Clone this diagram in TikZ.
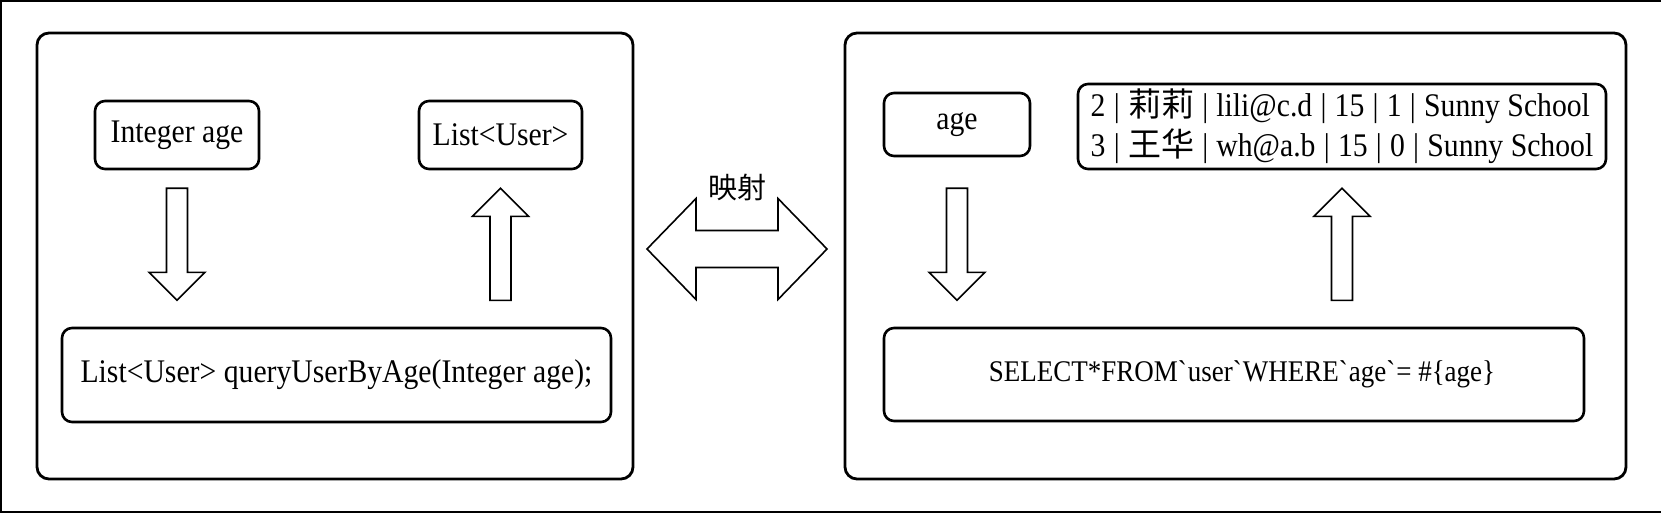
\documentclass[tikz,border=0pt]{standalone}
\usepackage{fontspec}
\setmainfont{Liberation Serif}[FakeStretch=0.9]
\newfontfamily\cjk{Noto Sans CJK SC}
\newcommand{\sepbar}{\hspace{.25em}|\hspace{.25em}}
\newcommand{\bq}{\textasciigrave}
\tikzset{
  panel/.style={draw, line width=2.8pt, rounded corners=12pt},
  box/.style={draw, line width=2.6pt, rounded corners=10pt, inner sep=0pt, font=\fontsize{33}{40}\selectfont},
  blockline/.style={draw, line width=1.6pt, fill=white},
  blockdown/.pic={\path[blockline] (-10.5,0) -- (10.5,0) -- (10.5,84) -- (28,84) -- (0,112) -- (-28,84) -- (-10.5,84) -- cycle;},
  blockup/.pic={\path[blockline] (-10.5,112) -- (10.5,112) -- (10.5,28) -- (28,28) -- (0,0) -- (-28,28) -- (-10.5,28) -- cycle;},
  blockboth/.pic={\path[blockline] (-90,0) -- (-41,-50.5) -- (-41,-18.5) -- (41,-18.5) -- (41,-50.5) -- (90,0) -- (41,50.5) -- (41,18.5) -- (-41,18.5) -- (-41,50.5) -- cycle;}
}
\begin{document}
\begin{tikzpicture}[x=1pt, y=-1pt]
  \useasboundingbox (0,0) rectangle (1661,513);
  \draw[line width=2pt] (1661,1) -- (1,1) -- (1,512) -- (1661,512);
  % java side
  \node[panel, minimum width=596pt, minimum height=446pt] (javapanel) at (335,256) {};
  \node[box, minimum width=164pt, minimum height=68pt] (intage) at (177,135) {Integer age};
  \node[box, minimum width=163pt, minimum height=68pt] (listuser) at (500.5,135) {List<User>};
  \node[box, minimum width=549pt, minimum height=94pt] (query) at (336.5,375) {List<User> queryUserByAge(Integer age);};
  \coordinate (arrtop) at ([yshift=-18pt]intage.south);
  \pic at (arrtop) {blockdown};
  \pic at (listuser.south |- arrtop) {blockup};
  % mapping
  \coordinate (map) at (737,249);
  \pic at (map) {blockboth};
  \node[font=\cjk\fontsize{29}{29}\selectfont] (maplabel) at (737,188) {映射};
  % sql side
  \node[panel, minimum width=781pt, minimum height=446pt] (sqlpanel) at (1235.5,256) {};
  \node[box, minimum width=146pt, minimum height=63pt] (agebox) at (957,124.5) {age};
  \node[box, minimum width=528pt, minimum height=85pt, align=left] (rows) at (1342,126.5)
    {2\sepbar{\cjk 莉莉}\sepbar lili@c.d\sepbar 15\sepbar 1\sepbar Sunny School\\
     3\sepbar{\cjk 王华}\sepbar wh@a.b\sepbar 15\sepbar 0\sepbar Sunny School};
  \node[box, minimum width=700pt, minimum height=93pt, font=\fontsize{30}{40}\selectfont] (sql) at (1234,374.5)
    {\hspace{16pt}SELECT*FROM\bq user\bq WHERE\bq age\bq= \#\{age\}};
  \pic at (agebox.south |- arrtop) {blockdown};
  \pic at (rows.south |- arrtop) {blockup};
\end{tikzpicture}
\end{document}
